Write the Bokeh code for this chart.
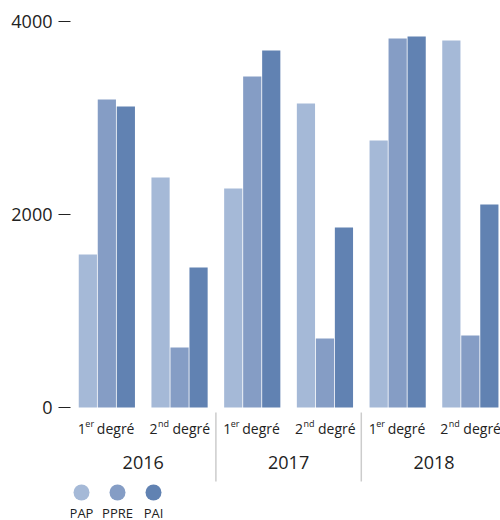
from bokeh.plotting import figure
from bokeh.models import ColumnDataSource, Range1d, FixedTicker
from bokeh.core.properties import value
from bokeh.embed import file_html
from bokeh.resources import INLINE

# ---- data ----
years = ["2016", "2017", "2018"]
deg_num = ["1", "2"]
deg_sup = ["er", "nd"]
deg_word = "degré"
series = ["PAP", "PPRE", "PAI"]
colors = ["#a5b9d7", "#859dc5", "#6182b2"]
pap = [1585, 2383, 2269, 3150, 2767, 3803]
ppre = [3192, 622, 3430, 715, 3824, 746]
pai = [3119, 1451, 3699, 1865, 3845, 2104]
y_ticks = [0, 2000, 4000]

# ---- layout constants (pixels) ----
W, H = 500, 520
LEFT = 70             # frame left inside figure
SUB_PX = 72.7         # pixels per subgroup
K = 386 / 4000        # pixels per unit on y
ZERO_PX = 407         # y of 0 inside figure
FONT = "Open Sans"

x_end = (W - LEFT) / SUB_PX
y_end = 4000 + (ZERO_PX - 386) / K
y_start = -(H - ZERO_PX) / K

def ydata(px_below_zero):
    return -px_below_zero / K

def xdata(px):
    return (px - LEFT) / SUB_PX

p = figure(width=W, height=H, output_backend="svg", toolbar_location=None,
           x_range=Range1d(0, x_end), y_range=Range1d(y_start, y_end),
           x_axis_location=None, min_border_left=LEFT, min_border_right=0,
           min_border_top=0, min_border_bottom=0)
p.outline_line_color = None
p.grid.visible = False
p.background_fill_color = "white"
p.border_fill_color = "white"

ax = p.yaxis[0]
ax.ticker = FixedTicker(ticks=y_ticks, minor_ticks=[])
ax.axis_line_color = None
ax.major_tick_in = 0
ax.major_tick_out = 12
ax.major_tick_line_color = "#222222"
ax.major_tick_line_width = 1.2
ax.minor_tick_line_color = None
ax.major_label_text_font = FONT
ax.major_label_text_font_size = "18px"
ax.major_label_text_color = "#222222"
ax.major_label_standoff = 6

# ---- bars ----
n = len(pap)
centers = [i + 0.5 for i in range(n)]
off = 19 / SUB_PX
bw = 18.2 / SUB_PX
for j, (name, vals) in enumerate(zip(series, [pap, ppre, pai])):
    src = ColumnDataSource(dict(x=[c + (j - 1) * off for c in centers], top=vals))
    p.vbar(x="x", top="top", bottom=0, width=bw, source=src,
           fill_color=colors[j], line_color=None)

# ---- subgroup labels ----
sub_x, sub_num, sub_sup, n_off, s_off, w_off = [], [], [], [], [], []
for i in range(n):
    d = i % 2
    sub_x.append(centers[i])
    sub_num.append(deg_num[d])
    sub_sup.append(deg_sup[d])
    n_off.append(-29 if d == 0 else -30)
    s_off.append(-21.5 if d == 0 else -21.5)
    w_off.append(-10 if d == 0 else -7)
ls = ColumnDataSource(dict(x=sub_x, y=[0] * n, num=sub_num, sup=sub_sup,
                           word=[deg_word] * n, no=n_off, so=s_off, wo=w_off))
p.text(x="x", y="y", text="num", x_offset="no", y_offset=21, source=ls,
       text_font=value(FONT), text_font_size="14px", text_color="#222222",
       text_align="left", text_baseline="alphabetic")
p.text(x="x", y="y", text="sup", x_offset="so", y_offset=15.5, source=ls,
       text_font=value(FONT), text_font_size="9px", text_color="#222222",
       text_align="left", text_baseline="alphabetic")
p.text(x="x", y="y", text="word", x_offset="wo", y_offset=21, source=ls,
       text_font=value(FONT), text_font_size="14px", text_color="#222222",
       text_align="left", text_baseline="alphabetic")

# ---- year labels ----
ys = ColumnDataSource(dict(x=[2 * i + 1 for i in range(len(years))],
                           y=[0] * len(years), t=years))
p.text(x="x", y="y", text="t", y_offset=55, source=ys,
       text_font=value(FONT), text_font_size="18px", text_color="#222222",
       text_align="center", text_baseline="alphabetic")

# ---- separators ----
sep_x = [2 * i for i in range(1, len(years))]
p.segment(x0=sep_x, x1=sep_x, y0=[ydata(5)] * len(sep_x), y1=[ydata(74)] * len(sep_x),
          line_color="#cccccc", line_width=1.5)

# ---- legend ----
leg_px = [81, 117, 153]
leg_x = [xdata(v) for v in leg_px]
lsrc = ColumnDataSource(dict(x=leg_x, y=[ydata(85)] * 3, c=colors, t=series))
p.scatter(x="x", y="y", size=16, marker="circle", fill_color="c",
          line_color=None, source=lsrc)
p.text(x="x", y="y", text="t", y_offset=20, source=lsrc,
       text_font=value(FONT), text_font_size="13px", text_color="#222222",
       text_align="center", text_baseline="alphabetic")

open("out.html", "w").write(file_html(p, INLINE))
